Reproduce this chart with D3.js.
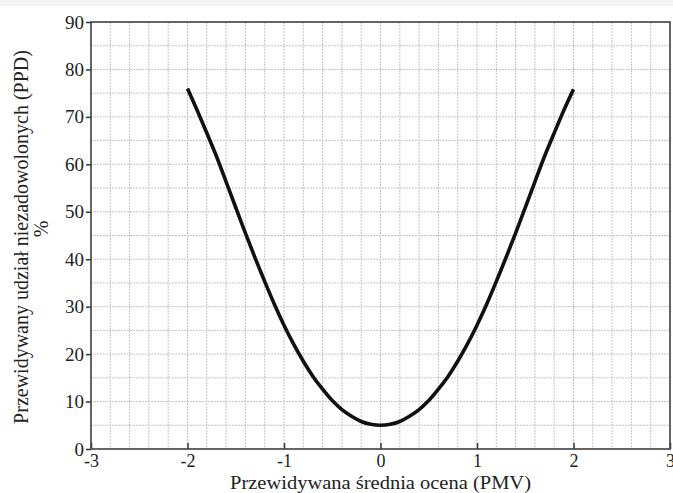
<!DOCTYPE html>
<html><head><meta charset="utf-8">
<script src="https://cdn.jsdelivr.net/npm/d3@7"></script>
<style>
body{margin:0;background:#fff;}
svg{display:block;}
text{font-family:"Liberation Serif","Times New Roman",serif;fill:#222;}
</style></head>
<body><svg id="c" width="673" height="493"></svg>
<script>
const pmv = [-2.0,-1.9,-1.8,-1.7,-1.6,-1.5,-1.4,-1.3,-1.2,-1.1,-1.0,-0.9,-0.8,-0.7,-0.6,-0.5,-0.4,-0.3,-0.2,-0.1,0.0,0.1,0.2,0.3,0.4,0.5,0.6,0.7,0.8,0.9,1.0,1.1,1.2,1.3,1.4,1.5,1.6,1.7,1.8,1.9,2.0];
const ppd = [76.0,71.4,66.6,61.7,56.3,50.9,45.5,40.3,35.3,30.5,26.1,22.1,18.5,15.3,12.6,10.2,8.3,6.9,5.8,5.2,5.0,5.2,5.8,6.9,8.3,10.2,12.6,15.3,18.5,22.1,26.1,30.5,35.3,40.3,45.5,50.9,56.3,61.7,66.6,71.4,75.8];
const xTicks = [-3,-2,-1,0,1,2,3];
const yTicks = [0,10,20,30,40,50,60,70,80,90];
const xGrid = d3.range(-30,31,2).map(v=>v/10);
const yGrid = d3.range(0,91,5);
const xTitle = "Przewidywana średnia ocena (PMV)";
const yTitle1 = "Przewidywany udział niezadowolonych (PPD)";
const yTitle2 = "%";

const svg = d3.select("#c");
const L=91, R=670, T=22, B=449;
const x = d3.scaleLinear().domain([-3,3]).range([L,R]);
const y = d3.scaleLinear().domain([0,90]).range([B,T]);

svg.append("rect").attr("x",0).attr("y",0).attr("width",673).attr("height",6).attr("fill","#f4f4f4");

const g = svg.append("g");
g.selectAll(".vg").data(xGrid).join("line")
  .attr("x1",d=>x(d)).attr("x2",d=>x(d)).attr("y1",T).attr("y2",B)
  .attr("stroke","#c4c4c4").attr("stroke-width",1).attr("stroke-dasharray","2,1");
g.selectAll(".hg").data(yGrid).join("line")
  .attr("y1",d=>y(d)).attr("y2",d=>y(d)).attr("x1",L).attr("x2",R)
  .attr("stroke","#c4c4c4").attr("stroke-width",1).attr("stroke-dasharray","2,1");

// axes
const xAxis = d3.axisBottom(x).tickValues(xTicks).tickSize(-6).tickPadding(5).tickFormat(d=>String(d));
const gx = svg.append("g").attr("transform",`translate(0,${B})`).call(xAxis);
gx.select(".domain").remove();
gx.selectAll("line").attr("stroke","#333").attr("stroke-width",1.5);
gx.selectAll("text").attr("font-size",18).attr("font-family","Liberation Serif").attr("fill","#222");

const yAxis = d3.axisLeft(y).tickValues(yTicks).tickSize(5).tickPadding(2).tickFormat(d=>String(d));
const gy = svg.append("g").attr("transform",`translate(${L},0)`).call(yAxis);
gy.select(".domain").remove();
gy.selectAll("line").attr("stroke","#333").attr("stroke-width",1.5);
gy.selectAll("text").attr("font-size",19).attr("font-family","Liberation Serif").attr("fill","#222");

svg.append("rect").attr("x",L).attr("y",T).attr("width",R-L).attr("height",B-T)
  .attr("fill","none").attr("stroke","#444").attr("stroke-width",1.6);

const line = d3.line().x((d,i)=>x(pmv[i])).y(d=>y(d)).curve(d3.curveMonotoneX);
svg.append("path").datum(ppd).attr("d",line).attr("fill","none")
  .attr("stroke","#111").attr("stroke-width",3.6);

svg.append("text").attr("x",(L+R)/2).attr("y",489).attr("text-anchor","middle")
  .attr("font-size",19.5).attr("textLength",301).attr("lengthAdjust","spacingAndGlyphs").text(xTitle);
svg.append("text").attr("transform","translate(28,237) rotate(-90)").attr("text-anchor","middle")
  .attr("font-size",20).text(yTitle1);
svg.append("text").attr("transform","translate(48,229) rotate(-90)").attr("text-anchor","middle")
  .attr("font-size",20).text(yTitle2);
</script></body></html>
